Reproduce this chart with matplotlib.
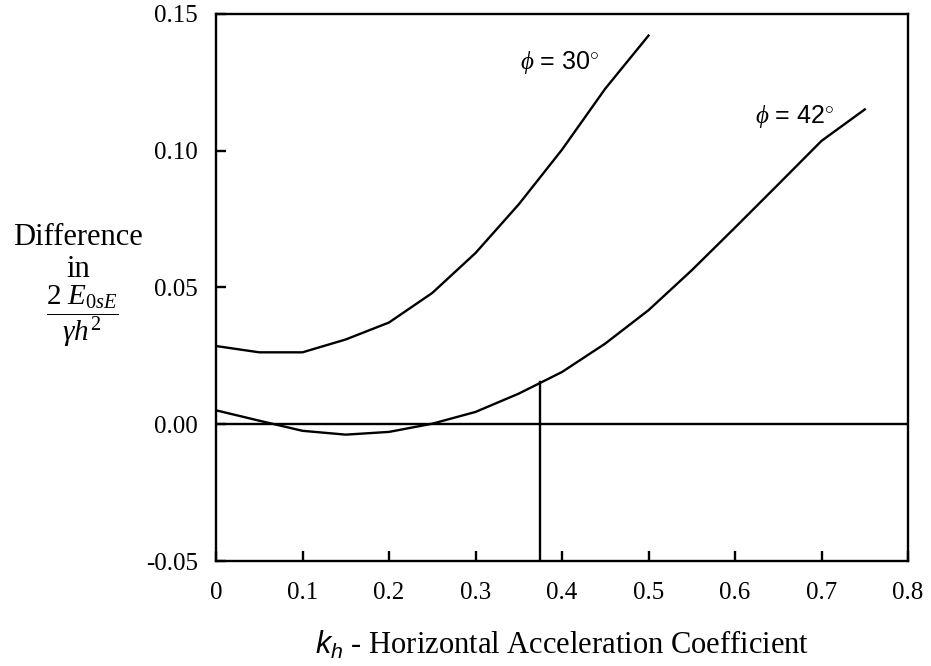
import matplotlib
matplotlib.use("Agg")
import matplotlib.pyplot as plt
import numpy as np

plt.rcParams['mathtext.fontset'] = 'custom'
plt.rcParams['mathtext.rm'] = 'Liberation Serif'
plt.rcParams['mathtext.it'] = 'Liberation Serif:italic'
plt.rcParams['mathtext.sf'] = 'Liberation Sans:italic'
plt.rcParams['font.family'] = ['Liberation Serif', 'DejaVu Serif']

# data
kh_30 = [0.0, 0.05, 0.1, 0.15, 0.2, 0.25, 0.3, 0.35, 0.4, 0.45, 0.5]
diff_30 = [0.0286, 0.0263, 0.0263, 0.031, 0.0372, 0.048, 0.0626, 0.0804, 0.1004, 0.1227, 0.1421]
kh_42 = [0.0, 0.05, 0.1, 0.15, 0.2, 0.25, 0.3, 0.35, 0.4, 0.45, 0.5, 0.55, 0.6, 0.65, 0.7, 0.75]
diff_42 = [0.0051, 0.0013, -0.0024, -0.0038, -0.0028, 0.0002, 0.0045, 0.0112, 0.0191, 0.0295,
           0.0417, 0.0563, 0.0719, 0.0877, 0.1036, 0.1151]
marker_kh = 0.375
marker_val = 0.0155
xticks = [0, 0.1, 0.2, 0.3, 0.4, 0.5, 0.6, 0.7, 0.8]
xtick_labels = ['0', '0.1', '0.2', '0.3', '0.4', '0.5', '0.6', '0.7', '0.8']
yticks = [-0.05, 0.0, 0.05, 0.10, 0.15]
ytick_labels = ['-0.05', '0.00', '0.05', '0.10', '0.15']

fig = plt.figure(figsize=(9.31, 6.66), dpi=100)
ax = fig.add_axes([216/931, 1-561/666, (908-216)/931, (561-14)/666])

lw = 1.7
ax.plot(kh_30, diff_30, color='black', lw=lw)
ax.plot(kh_42, diff_42, color='black', lw=lw)
ax.axhline(0, color='black', lw=lw)
ax.plot([marker_kh, marker_kh], [-0.05, marker_val], color='black', lw=lw)

ax.set_xlim(0, 0.8)
ax.set_ylim(-0.05, 0.15)
ax.set_xticks(xticks)
ax.set_xticklabels(xtick_labels)
ax.set_yticks(yticks)
ax.set_yticklabels(ytick_labels)
ax.tick_params(direction='in', length=7, width=lw, labelsize=18, pad=13)
ax.tick_params(axis='x', pad=15)
for s in ax.spines.values():
    s.set_linewidth(lw)

ax.text(0.351, 0.130, r'$\phi$ = 30$^{\circ}$', fontsize=18, family='Liberation Sans')
ax.text(0.623, 0.110, r'$\phi$ = 42$^{\circ}$', fontsize=18, family='Liberation Sans')

ax.set_xlabel(r'$\mathsf{k_h}$ - Horizontal Acceleration Coefficient', fontsize=22, labelpad=18)

fig.text(78/931, 1-245/666, 'Difference', fontsize=22, ha='center', va='baseline')
fig.text(78/931, 1-277/666, 'in', fontsize=22, ha='center', va='baseline')
fig.text(82/931, 1-316/666, r'$\dfrac{2\ E_{0sE}}{\gamma h^2}$', fontsize=21, ha='center', va='center')

fig.savefig('out.png', dpi=100)
